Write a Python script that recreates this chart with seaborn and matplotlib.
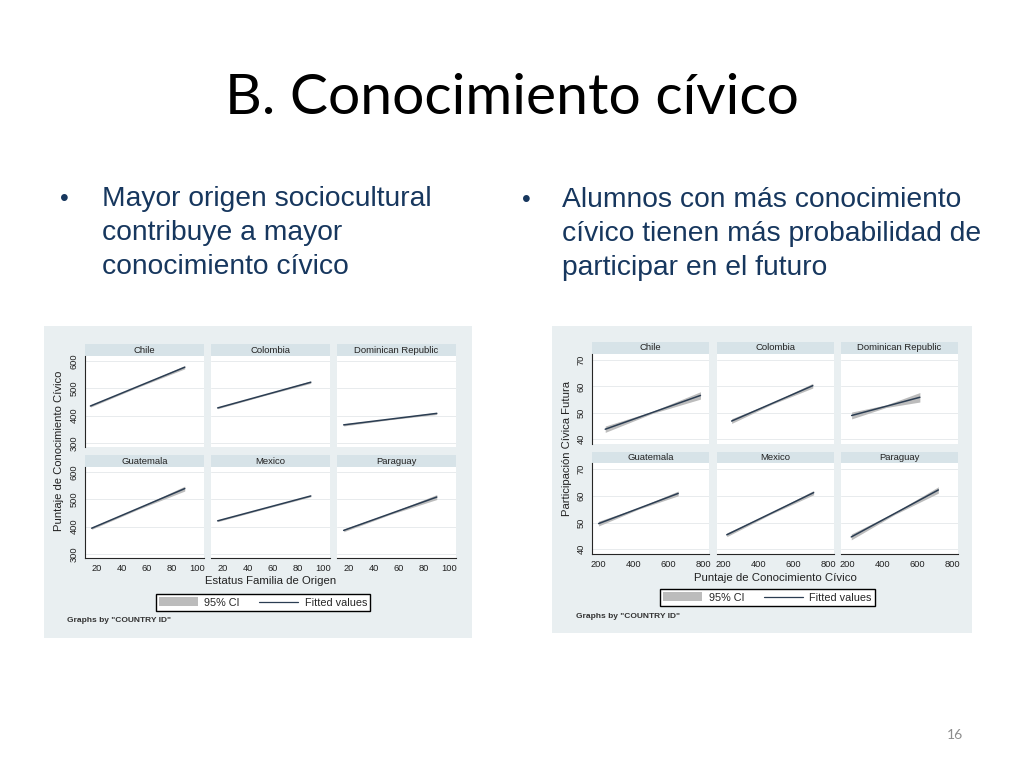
import numpy as np
import pandas as pd
import matplotlib
matplotlib.use('Agg')
from matplotlib import pyplot as plt
from matplotlib.patches import Patch
from matplotlib.lines import Line2D
import seaborn as sns

# slide text
title = 'B. Conocimiento cívico'
bullet_left = ['Mayor origen sociocultural', 'contribuye a mayor', 'conocimiento cívico']
bullet_right = ['Alumnos con más conocimiento', 'cívico tienen más probabilidad de', 'participar en el futuro']
page_num = '16'

countries = ['Chile', 'Colombia', 'Dominican Republic', 'Guatemala', 'Mexico', 'Paraguay']

# left graph: Estatus Familia de Origen -> Puntaje de Conocimiento Civico
ses_x = [[15, 53, 90], [16, 53, 90], [16, 53, 90], [16, 53, 90], [16, 53, 90], [16, 53, 90]]
civ_fit = [[435, 577], [428, 522], [366, 408], [394, 539], [421, 512], [386, 508]]
civ_low = [[431, 504, 571], [425, 473, 518], [362, 385, 404], [390, 463, 530], [418, 464, 509], [381, 444, 499]]
civ_up = [[439, 508, 583], [431, 477, 527], [370, 389, 412], [398, 469, 548], [424, 468, 515], [391, 450, 517]]
ses_ticks = [20, 40, 60, 80, 100]
civ_ticks = [300, 400, 500, 600]

# right graph: Puntaje de Conocimiento Civico -> Participacion Civica Futura
know_x = [[238, 510, 785], [246, 480, 712], [223, 420, 615], [200, 430, 657], [218, 468, 717], [221, 471, 721]]
part_fit = [[43.8, 56.6], [46.9, 60.3], [49.0, 55.9], [49.6, 60.9], [45.4, 61.2], [44.6, 62.2]]
part_low = [[42.6, 49.8, 55.2], [46.0, 53.3, 59.4], [47.7, 52.0, 54.1], [48.7, 55.0, 60.0], [44.7, 53.0, 60.4], [43.5, 53.0, 61.0]]
part_up = [[45.0, 50.6, 58.0], [47.8, 53.9, 61.2], [50.3, 53.0, 57.7], [50.5, 55.6, 61.8], [46.1, 53.6, 62.0], [45.7, 53.8, 63.4]]
know_ticks = [200, 400, 600, 800]
part_ticks = [40, 50, 60, 70]

sns.set_style('white')
plt.rcParams['font.family'] = ['Liberation Sans', 'DejaVu Sans']

W, H = 1024, 768
fig = plt.figure(figsize=(W / 100, H / 100), dpi=100)

BG = '#e9eff1'
STRIP = '#d7e3e8'
CI = '#bcbcbc'
LINE = '#2b3d52'
NAVY = '#17375e'


def px_axes(x0, y0, x1, y1):
    return fig.add_axes([x0 / W, 1 - y1 / H, (x1 - x0) / W, (y1 - y0) / H])


def fig_text(x, y, s, **kw):
    fig.text(x / W, 1 - y / H, s, **kw)


def draw_graph(box, cols, rows, xlim, ylim, xticks, yticks, xs, fits, lows, ups,
               xlabel, ylabel, xlabel_y, ylabel_x, legend_c, note_xy):
    bg = px_axes(*box)
    bg.set_facecolor(BG)
    bg.set_xticks([])
    bg.set_yticks([])
    for s in bg.spines.values():
        s.set_visible(False)

    for i, name in enumerate(countries):
        r, c = divmod(i, 3)
        cx0, cx1 = cols[c]
        sy0, sy1, py1 = rows[r]
        strip = px_axes(cx0, sy0, cx1, sy1)
        strip.set_facecolor(STRIP)
        strip.set_xticks([])
        strip.set_yticks([])
        for s in strip.spines.values():
            s.set_visible(False)
        strip.text(0.5, 0.5, name, ha='center', va='center', fontsize=6.8, color='#222222',
                   transform=strip.transAxes)

        ax = px_axes(cx0, sy1, cx1, py1)
        ax.set_facecolor('white')
        ax.fill_between(xs[i], lows[i], ups[i], color=CI, lw=0, zorder=2)
        line_df = pd.DataFrame({'x': [xs[i][0], xs[i][-1]], 'y': fits[i]})
        sns.lineplot(data=line_df, x='x', y='y', ax=ax, color=LINE, lw=1.1, zorder=3)
        ax.set_xlim(*xlim)
        ax.set_ylim(*ylim)
        ax.set_xticks(xticks)
        ax.set_yticks(yticks)
        ax.grid(axis='y', color='#e8ebed', lw=0.7)
        ax.set_axisbelow(True)
        ax.set_xlabel('')
        ax.set_ylabel('')
        for s in ax.spines.values():
            s.set_visible(False)
        ax.tick_params(axis='both', length=2.5, width=0.6, color='black', labelsize=6.7,
                       labelcolor='#222222', pad=2)
        if c == 0:
            ax.spines['left'].set_visible(True)
            ax.spines['left'].set_linewidth(0.8)
            ax.tick_params(axis='y', labelrotation=90)
            for lab in ax.get_yticklabels():
                lab.set_va('center')
        else:
            ax.tick_params(axis='y', length=0, labelleft=False)
        if r == 1:
            ax.spines['bottom'].set_visible(True)
            ax.spines['bottom'].set_linewidth(0.8)
        else:
            ax.tick_params(axis='x', length=0, labelbottom=False)

    xc = (cols[0][0] + cols[2][1]) / 2
    fig_text(xc, xlabel_y, xlabel, ha='center', va='center', fontsize=8.2, color='#222222')
    yc = (rows[0][0] + rows[1][2]) / 2
    fig_text(ylabel_x, yc, ylabel, ha='center', va='center', rotation=90, fontsize=8.1,
             color='#222222')

    handles = [Patch(facecolor=CI, edgecolor='none'), Line2D([], [], color=LINE, lw=0.9)]
    fig.legend(handles, ['95% CI', 'Fitted values'], loc='center',
               bbox_to_anchor=(legend_c[0] / W, 1 - legend_c[1] / H), ncol=2,
               frameon=True, fancybox=False, edgecolor='black', facecolor='white',
               framealpha=1, fontsize=7.8, handlelength=3.6, handleheight=0.9,
               handletextpad=0.6, columnspacing=1.8, borderpad=0.3)
    fig_text(note_xy[0], note_xy[1], 'Graphs by "COUNTRY ID"', ha='left', va='center',
             fontsize=6.0, fontweight='bold', color='#333333')


draw_graph(box=(44, 326, 472, 638),
           cols=[(85, 204), (211, 330), (337, 456)],
           rows=[(344, 356, 447), (455, 467, 558)],
           xlim=(10.7, 105.3), ylim=(285, 618),
           xticks=ses_ticks, yticks=civ_ticks,
           xs=ses_x, fits=civ_fit, lows=civ_low, ups=civ_up,
           xlabel='Estatus Familia de Origen', ylabel='Puntaje de Conocimiento Cívico',
           xlabel_y=581, ylabel_x=59, legend_c=(263, 602.5), note_xy=(67, 621))

draw_graph(box=(552, 326, 972, 633),
           cols=[(592, 709), (717, 834), (841, 958)],
           rows=[(342, 354, 444), (452, 463, 554)],
           xlim=(162, 834), ylim=(38.2, 72.3),
           xticks=know_ticks, yticks=part_ticks,
           xs=know_x, fits=part_fit, lows=part_low, ups=part_up,
           xlabel='Puntaje de Conocimiento Cívico', ylabel='Participación Cívica Futura',
           xlabel_y=578, ylabel_x=567, legend_c=(767.5, 597.5), note_xy=(576, 616))

# slide title, bullets and page number
fig_text(512, 98, title, ha='center', va='center', fontsize=41, color='black',
         family=['Lato', 'DejaVu Sans'])
for k, line in enumerate(bullet_left):
    fig_text(102, 206 + 34 * k, line, ha='left', va='baseline', fontsize=20.3, color=NAVY)
fig_text(60, 206, '•', ha='left', va='baseline', fontsize=18, color=NAVY)
for k, line in enumerate(bullet_right):
    fig_text(562, 207 + 34 * k, line, ha='left', va='baseline', fontsize=20.3, color=NAVY)
fig_text(522, 207, '•', ha='left', va='baseline', fontsize=18, color=NAVY)
fig_text(955, 735, page_num, ha='center', va='center', fontsize=10, color='#8c8c8c',
         family=['Lato', 'DejaVu Sans'])

fig.savefig('out.png', dpi=100)
